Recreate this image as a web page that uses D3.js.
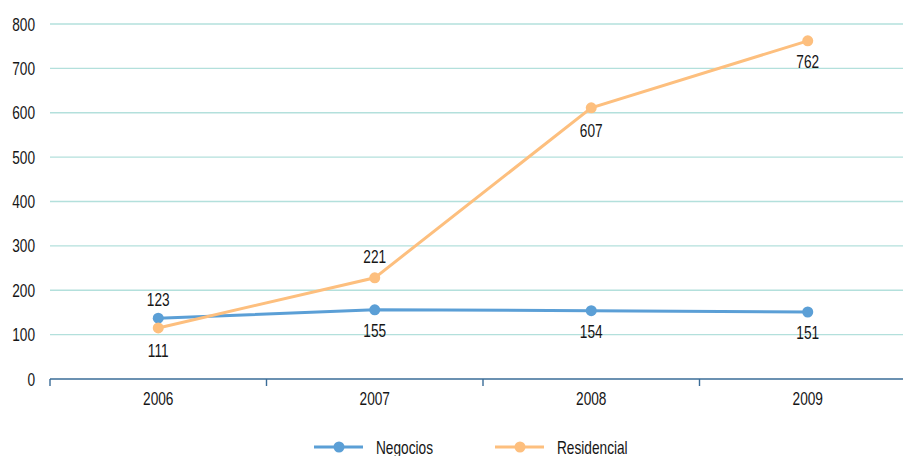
<!DOCTYPE html>
<html><head><meta charset="utf-8">
<script src="https://cdn.jsdelivr.net/npm/d3@7"></script>
<style>
html,body{margin:0;padding:0;background:#fff;}
svg{display:block;font-family:"Liberation Sans",Arial,sans-serif;}
</style></head>
<body>
<svg id="chart" width="903" height="456"></svg>
<script>
const years = ["2006","2007","2008","2009"];
const yTicks = [0,100,200,300,400,500,600,700,800];
const seriesNames = ["Negocios","Residencial"];
const negocios = [137,156,154,151];
const residencial = [115,228,611,762];
const negociosLabels = [123,155,154,151];
const residencialLabels = [111,221,607,762];
// label placement: 1 = above, -1 = below
const negociosLabelPos = [1,-1,-1,-1];
const residencialLabelPos = [-1,1,-1,-1];
const colors = ["#5b9fd6","#fdbf7e"];

const SX = 0.76; // condensed look
const svg = d3.select("#chart");
const W = 903;
const x = d3.scaleBand().domain(years).range([50, 50+216.5*4]);
const y = d3.scaleLinear().domain([0,800]).range([379, 24]);

function ctext(sel, fx, fy){
  return sel.attr("transform",(d,i)=>`translate(${fx(d,i)},${fy(d,i)}) scale(${SX},1)`)
    .attr("font-size",18).attr("fill","#161616");
}

// grid
svg.append("g").selectAll("line").data(yTicks.filter(d=>d>0)).join("line")
  .attr("x1", 50).attr("x2", W)
  .attr("y1", d=>y(d)).attr("y2", d=>y(d))
  .attr("stroke", "#b3e0dc").attr("stroke-width", 1.3);

// y labels
ctext(svg.append("g").selectAll("text").data(yTicks).join("text"), ()=>35, d=>y(d)+6.5)
  .attr("text-anchor","end").text(d=>d);

// x axis
const xAxisG = svg.append("g").attr("transform","translate(0,379)");
xAxisG.append("line").attr("x1", 50).attr("x2", W).attr("y1",0).attr("y2",0)
  .attr("stroke","#3a6c97").attr("stroke-width",1.6);
const bounds = years.map(d=>x(d)).concat([x(years[3])+x.bandwidth()]);
xAxisG.selectAll("line.tick").data(bounds).join("line").attr("class","tick")
  .attr("x1",d=>d).attr("x2",d=>d).attr("y1",0).attr("y2",7)
  .attr("stroke","#3a6c97").attr("stroke-width",1.4);
ctext(xAxisG.selectAll("text").data(years).join("text"), d=>x(d)+x.bandwidth()/2, ()=>26)
  .attr("text-anchor","middle").text(d=>d);

const cx = d => x(d)+x.bandwidth()/2;
const line = d3.line().x(d=>cx(d.year)).y(d=>y(d.v));

function drawSeries(vals, labels, pos, color){
  const data = years.map((yr,i)=>({year:yr, v:vals[i], lab:labels[i], p:pos[i]}));
  svg.append("path").datum(data).attr("d", line)
    .attr("fill","none").attr("stroke", color).attr("stroke-width",3);
  svg.append("g").selectAll("circle").data(data).join("circle")
    .attr("cx", d=>cx(d.year)).attr("cy", d=>y(d.v)).attr("r",5.5).attr("fill", color);
  return data;
}
const d1 = drawSeries(negocios, negociosLabels, negociosLabelPos, colors[0]);
const d2 = drawSeries(residencial, residencialLabels, residencialLabelPos, colors[1]);

[d1,d2].forEach(data=>{
  ctext(svg.append("g").selectAll("text").data(data).join("text"),
    d=>cx(d.year), d=> d.p>0 ? y(d.lab)-18 : y(d.lab)+27)
    .attr("text-anchor","middle").text(d=>d.lab);
});

// legend
const legX = [314, 495];
const leg = svg.append("g").selectAll("g").data(seriesNames).join("g")
  .attr("transform",(d,i)=>`translate(${legX[i]},447)`);
leg.append("line").attr("x1",0).attr("x2",49).attr("y1",0).attr("y2",0)
  .attr("stroke",(d,i)=>colors[i]).attr("stroke-width",3);
leg.append("circle").attr("cx",25).attr("cy",0).attr("r",5.5).attr("fill",(d,i)=>colors[i]);
ctext(leg.append("text"), ()=>62, ()=>6.5).text(d=>d);
</script>
</body></html>
